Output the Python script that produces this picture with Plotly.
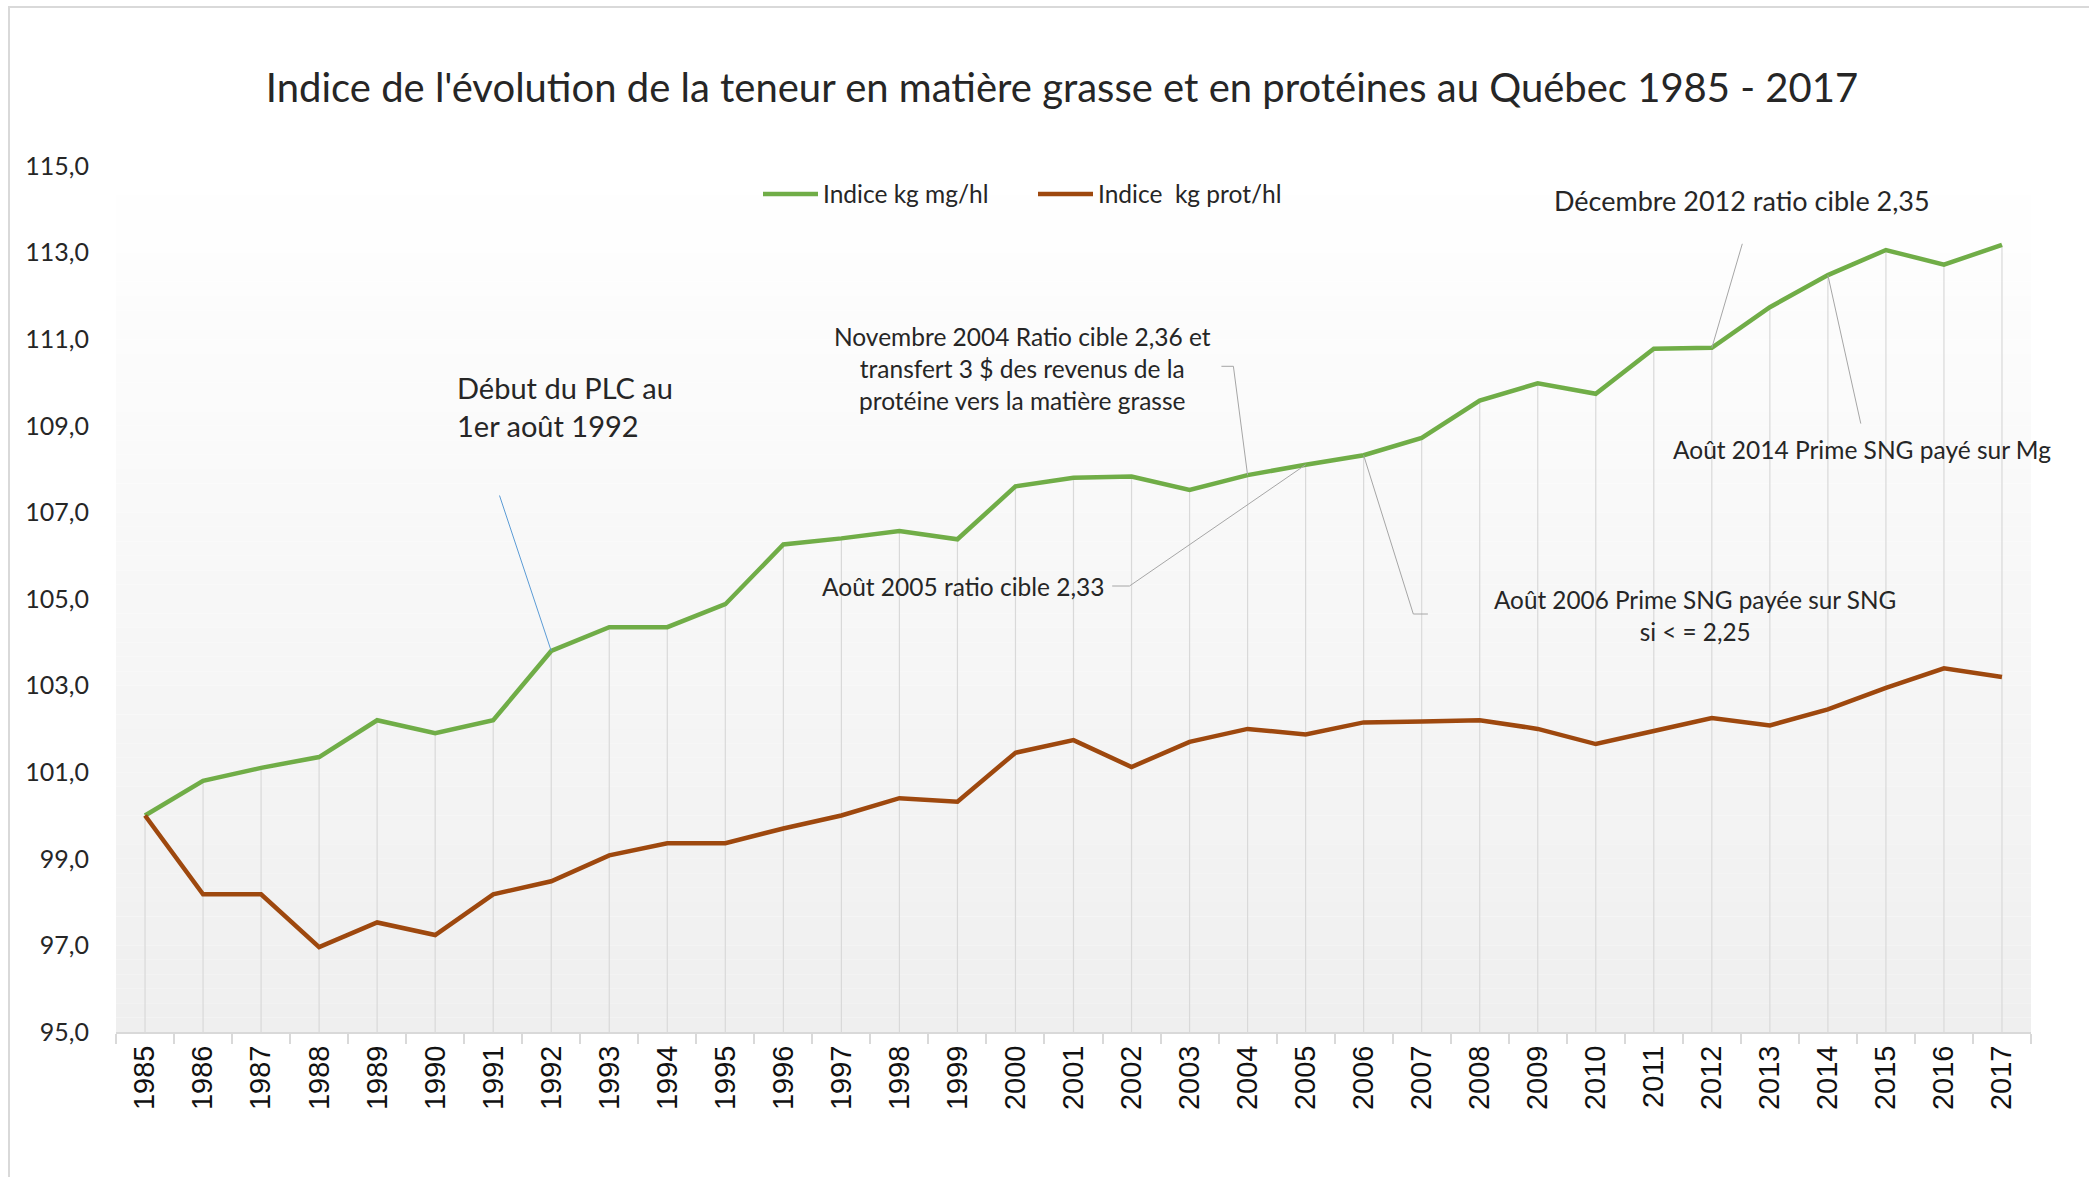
import plotly.graph_objects as go

# ---------------- data ----------------
years = [str(y) for y in range(1985, 2018)]
indice_mg = [100.0, 100.8, 101.1, 101.35, 102.2, 101.9, 102.2, 103.8, 104.35, 104.35,
             104.88, 106.26, 106.4, 106.57, 106.38, 107.6, 107.8, 107.83, 107.52, 107.86,
             108.1, 108.32, 108.72, 109.58, 109.98, 109.74, 110.78, 110.8, 111.74, 112.48,
             113.06, 112.72, 113.18]
indice_prot = [100.0, 98.18, 98.18, 96.96, 97.53, 97.24, 98.18, 98.48, 99.08, 99.36,
               99.36, 99.7, 100.0, 100.4, 100.32, 101.45, 101.74, 101.12, 101.7, 102.0,
               101.87, 102.15, 102.17, 102.2, 102.0, 101.65, 101.95, 102.25, 102.08, 102.45,
               102.95, 103.4, 103.2]
series_names = ["Indice kg mg/hl", "Indice  kg prot/hl"]
y_ticks = [95, 97, 99, 101, 103, 105, 107, 109, 111, 113, 115]
title_text = "Indice de l'évolution de la teneur en matière grasse et en protéines au Québec 1985 - 2017"

# ---------------- geometry helpers ----------------
W, H = 2089, 1177
L, R, T, B = 116, 58, 166, 145
PW, PH = W - L - R, H - T - B
Y0, Y1 = 95, 115

def pxx(x):
    return (x - L) / PW

def pxy(y):
    return (H - B - y) / PH

def data_x(px):
    return (px - L) / PW * len(years) - 0.5

def data_y(py):
    return Y0 + (H - B - py) / PH * (Y1 - Y0)

GREEN = "#70AD47"
BROWN = "#9E480E"
TXT = "#262626"
FONT = "Lato"

fig = go.Figure()

# drop lines from the fat index down to the axis
dx, dy = [], []
for yr, v in zip(years, indice_mg):
    dx += [yr, yr, None]
    dy += [Y0, v, None]
fig.add_trace(go.Scatter(x=dx, y=dy, mode="lines", line=dict(color="#D9D9D9", width=1.2),
                         showlegend=False, hoverinfo="skip"))

fig.add_trace(go.Scatter(x=years, y=indice_mg, mode="lines", name=series_names[0],
                         line=dict(color=GREEN, width=4.5)))
fig.add_trace(go.Scatter(x=years, y=indice_prot, mode="lines", name=series_names[1],
                         line=dict(color=BROWN, width=4.5)))

shapes = []
# gradient background of the plot area
n = 60
for i in range(n):
    t = (i + 0.5) / n
    c = int(round(255 - 16 * t))
    shapes.append(dict(type="rect", xref="paper", yref="paper", layer="below",
                       x0=0, x1=1, y0=1 - (i + 1) / n, y1=1 - i / n,
                       fillcolor=f"rgb({c},{c},{c})", line=dict(width=0)))
# chart border
shapes.append(dict(type="rect", xref="paper", yref="paper", layer="below",
                   x0=pxx(9), x1=pxx(2110), y0=pxy(1200), y1=pxy(7),
                   line=dict(color="#D9D9D9", width=2), fillcolor="rgba(0,0,0,0)"))

def leader(points_px, target_year, color="#A6A6A6", width=1):
    idx = years.index(target_year)
    pts = [(data_x(px), data_y(py)) for px, py in points_px] + [(idx, indice_mg[idx])]
    for (xa, ya), (xb, yb) in zip(pts[:-1], pts[1:]):
        shapes.append(dict(type="line", xref="x", yref="y", x0=xa, y0=ya, x1=xb, y1=yb,
                           line=dict(color=color, width=width)))

leader([(499.5, 495.5)], "1992", color="#5B9BD5", width=1)
leader([(1221.4, 366.3), (1233.4, 366.3)], "2004")
leader([(1112.2, 586), (1129.5, 586)], "2005")
leader([(1427.9, 614), (1413.3, 614)], "2006")
leader([(1742.3, 243.8)], "2012")
leader([(1860.8, 423.6)], "2014")

def note(text, x, y, size, xanchor="center", align="center"):
    return dict(text=text, xref="paper", yref="paper", x=pxx(x), y=pxy(y),
                xanchor=xanchor, yanchor="middle", align=align, showarrow=False,
                font=dict(family=FONT, size=size, color=TXT))

annotations = [
    note("Début du PLC au<br>1er août 1992", 455, 406, 29, xanchor="left", align="left"),
    note("Novembre 2004 Ratio cible 2,36 et<br>transfert 3 $ des revenus de la<br>protéine vers la matière grasse",
         1022, 368, 24.5),
    note("Août 2005 ratio cible 2,33", 1106, 586, 24.5, xanchor="right", align="right"),
    note("Août 2006 Prime SNG payée sur SNG<br>si < = 2,25", 1695, 615, 24.3),
    note("Décembre 2012 ratio cible 2,35", 1742, 200, 27),
    note("Août 2014 Prime SNG payé sur Mg", 1862, 449, 24.5),
]

fig.update_layout(
    width=W, height=H,
    margin=dict(l=L, r=R, t=T, b=B),
    paper_bgcolor="white", plot_bgcolor="white",
    separators=", ",
    title=dict(text=title_text, xref="container", x=1062 / W, xanchor="center",
               yref="container", y=1 - 88 / H, yanchor="middle",
               font=dict(family=FONT, size=40, color=TXT)),
    xaxis=dict(type="category", categoryorder="array", categoryarray=years,
               range=[-0.5, len(years) - 0.5], showgrid=False, zeroline=False,
               showline=True, linecolor="#D9D9D9", linewidth=2,
               ticks="outside", tickson="boundaries", ticklen=10, tickcolor="#D9D9D9", tickwidth=1.5,
               tickangle=-90, tickfont=dict(family="Liberation Sans", size=29, color="#111111")),
    yaxis=dict(range=[Y0, Y1], tickvals=y_ticks, tickformat=".1f", showgrid=False,
               zeroline=False, showline=False, ticks="", ticklabelstandoff=26,
               tickfont=dict(family=FONT, size=25, color=TXT)),
    legend=dict(orientation="h", x=pxx(758), xanchor="left", y=pxy(194), yanchor="middle",
                bgcolor="rgba(0,0,0,0)", font=dict(family=FONT, size=24.5, color=TXT),
                itemwidth=55, entrywidth=205),
    shapes=shapes,
    annotations=annotations,
    showlegend=True,
)

fig.write_html("out.html", config={"displayModeBar": False},
               post_script="document.body.style.margin='0';")
